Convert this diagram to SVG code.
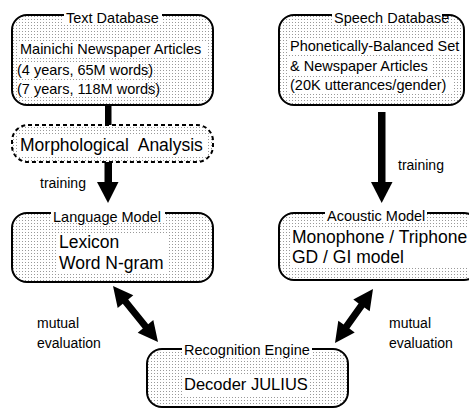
<svg xmlns="http://www.w3.org/2000/svg" width="469" height="411" viewBox="0 0 469 411">
<defs>
<pattern id="dots" width="3" height="3" patternUnits="userSpaceOnUse">
<rect width="3" height="3" fill="#fff"/>
<rect x="1" y="1" width="1" height="1" fill="#999"/>
</pattern>
<style>
text{font-family:"Liberation Sans",Arial,sans-serif;fill:#000}
.box{fill:url(#dots);stroke:#000;stroke-width:2}
.dash{fill:url(#dots);stroke:#000;stroke-width:2;stroke-dasharray:4 3}
.bg{fill:#fff}
.title{font-size:14.5px}
.body{font-size:14.5px}
.big{font-size:17.5px}
.dec{font-size:16.5px}
.small{font-size:14px}
.arrow{fill:#000}
</style>
</defs>
<rect width="469" height="411" fill="#fff"/>

<g id="text-database">
<rect class="box" x="12" y="15" width="201" height="90" rx="15"/>
<rect class="bg" x="64" y="10" width="98" height="15"/>
<text class="title" x="66" y="23">Text Database</text>
<rect class="bg" x="18" y="41" width="188" height="16"/>
<rect class="bg" x="18" y="62" width="122" height="16"/>
<rect class="bg" x="18" y="81" width="128" height="16"/>
<text class="body" x="20" y="54">Mainichi Newspaper Articles</text>
<text class="body" x="17" y="75">(4 years, 65M words)</text>
<text class="body" x="17" y="94">(7 years, 118M words)</text>
</g>

<g id="speech-database">
<rect class="box" x="279" y="15" width="185" height="90" rx="15"/>
<rect class="bg" x="332" y="10" width="110" height="15"/>
<text class="title" x="334" y="23">Speech Database</text>
<rect class="bg" x="289" y="38" width="174" height="16"/>
<rect class="bg" x="289" y="58" width="144" height="16"/>
<rect class="bg" x="289" y="77" width="164" height="16"/>
<text class="body" x="290" y="51">Phonetically-Balanced Set</text>
<text class="body" x="290" y="71">&amp; Newspaper Articles</text>
<text class="body" x="290" y="90">(20K utterances/gender)</text>
</g>

<g id="morphological-analysis">
<rect class="dash" x="12" y="125" width="201" height="37" rx="16"/>
<rect class="bg" x="19" y="135" width="188" height="20"/>
<text class="big" x="20" y="151" xml:space="preserve" style="white-space:pre">Morphological  Analysis</text>
</g>

<g id="language-model">
<rect class="box" x="12" y="213" width="201" height="69" rx="15"/>
<rect class="bg" x="51" y="208" width="114" height="15"/>
<text class="title" x="53" y="222">Language Model</text>
<rect class="bg" x="57" y="233" width="110" height="40"/>
<text class="big" x="59" y="248">Lexicon</text>
<text class="big" x="59" y="269">Word N-gram</text>
</g>

<g id="acoustic-model">
<rect class="box" x="279" y="213" width="200" height="67" rx="15"/>
<rect class="bg" x="325" y="208" width="102" height="15"/>
<text class="title" x="327" y="221">Acoustic Model</text>
<rect class="bg" x="290" y="228" width="179" height="40"/>
<text class="big" x="292" y="243">Monophone / Triphone</text>
<text class="big" x="292" y="263">GD / GI model</text>
</g>

<g id="recognition-engine">
<rect class="box" x="147" y="349" width="201" height="58" rx="15"/>
<rect class="bg" x="182" y="343" width="130" height="15"/>
<text class="title" x="184" y="355">Recognition Engine</text>
<rect class="bg" x="182" y="374" width="128" height="21"/>
<text class="dec" x="184" y="390">Decoder JULIUS</text>
</g>

<g id="connectors">
<rect class="arrow" x="105" y="105" width="6.5" height="20"/>
<rect class="arrow" x="104.5" y="162" width="7.5" height="21"/>
<polygon class="arrow" points="97,182 118.5,182 108,203"/>
<rect class="arrow" x="378" y="112" width="7.5" height="71"/>
<polygon class="arrow" points="371,182 392.5,182 381.7,203"/>
<polygon class="arrow" points="113,286 117.7,307.9 122.8,303.8 142.8,328.6 137.7,332.7 158,342 153.3,320.1 148.2,324.2 128.2,299.4 133.3,295.3"/>
<polygon class="arrow" points="373,289 353.3,299.6 358.6,303.4 343.6,324.6 338.3,320.8 335,343 354.7,332.4 349.4,328.6 364.4,307.4 369.7,311.2"/>
<text class="small" x="40" y="188">training</text>
<text class="small" x="398" y="170">training</text>
<text class="small" x="37" y="328">mutual</text>
<text class="small" x="37" y="348">evaluation</text>
<text class="small" x="389" y="328">mutual</text>
<text class="small" x="389" y="348">evaluation</text>
</g>
</svg>
